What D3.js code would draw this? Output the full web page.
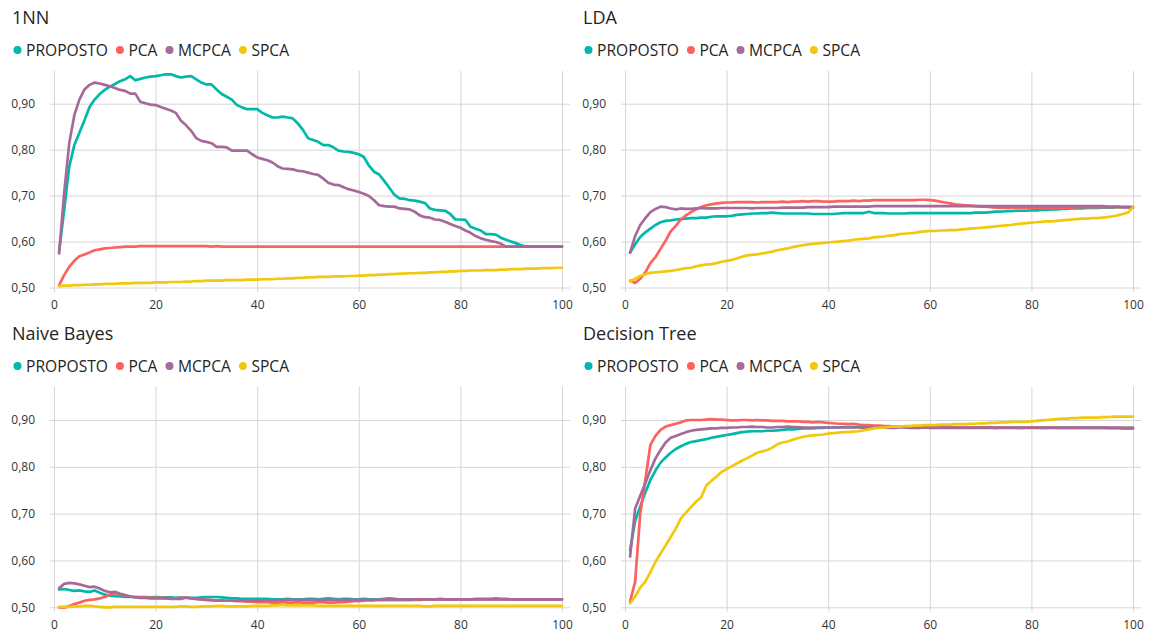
<!DOCTYPE html>
<html>
<head>
<meta charset="utf-8">
<script src="https://cdn.jsdelivr.net/npm/d3@7"></script>
<style>
  html, body { margin: 0; padding: 0; background: #fff; }
  svg { display: block; font-family: "Segoe UI", "Open Sans", sans-serif; }
</style>
</head>
<body>
<svg id="chart" width="1150" height="634"></svg>
<script>
// Number of components on the x axis
const components = d3.range(1, 101);

const seriesNames = ["PROPOSTO", "PCA", "MCPCA", "SPCA"];
const seriesColors = ["#01B8AA", "#FD625E", "#A66999", "#F2C80F"];
const panelTitles = ["1NN", "LDA", "Naive Bayes", "Decision Tree"];
const yTicks = [0.5, 0.6, 0.7, 0.8, 0.9];
const xTicks = [0, 20, 40, 60, 80, 100];

// ---- 1NN ----
const nnProposto = [
  0.578,0.669,0.763,0.810,0.837,0.864,0.893,0.909,0.921,0.930,
  0.937,0.943,0.949,0.953,0.960,0.951,0.954,0.957,0.959,0.960,
  0.962,0.964,0.964,0.960,0.957,0.959,0.960,0.953,0.946,0.942,
  0.942,0.931,0.921,0.915,0.909,0.897,0.892,0.888,0.888,0.888,
  0.880,0.875,0.870,0.870,0.872,0.870,0.868,0.857,0.843,0.825,
  0.821,0.817,0.810,0.810,0.805,0.798,0.796,0.795,0.793,0.790,
  0.784,0.765,0.752,0.746,0.732,0.717,0.702,0.694,0.693,0.690,
  0.689,0.687,0.684,0.672,0.669,0.668,0.667,0.660,0.648,0.648,
  0.647,0.632,0.628,0.624,0.616,0.616,0.615,0.608,0.604,0.600,
  0.596,0.592,0.589,0.589,0.589,0.589,0.589,0.589,0.589,0.589
];
const nnPca = [
  0.505,0.527,0.545,0.558,0.568,0.572,0.576,0.581,0.583,0.585,
  0.586,0.587,0.588,0.589,0.589,0.589,0.590,0.590,0.590,0.590,
  0.590,0.590,0.590,0.590,0.590,0.590,0.590,0.590,0.590,0.590,
  0.589,0.590,0.589,0.589,0.589,0.589,0.589,0.589,0.589,0.589,
  0.589,0.589,0.589,0.589,0.589,0.589,0.589,0.589,0.589,0.589,
  0.589,0.589,0.589,0.589,0.589,0.589,0.589,0.589,0.589,0.589,
  0.589,0.589,0.589,0.589,0.589,0.589,0.589,0.589,0.589,0.589,
  0.589,0.589,0.589,0.589,0.589,0.589,0.589,0.589,0.589,0.589,
  0.589,0.589,0.589,0.589,0.589,0.589,0.589,0.589,0.589,0.589,
  0.589,0.589,0.589,0.589,0.589,0.589,0.589,0.589,0.589,0.589
];
const nnMcpca = [
  0.574,0.705,0.814,0.875,0.909,0.931,0.941,0.946,0.944,0.941,
  0.938,0.934,0.930,0.928,0.922,0.922,0.904,0.901,0.898,0.897,
  0.893,0.889,0.885,0.880,0.863,0.853,0.841,0.825,0.819,0.817,
  0.814,0.806,0.806,0.805,0.798,0.798,0.798,0.798,0.790,0.783,
  0.780,0.777,0.772,0.764,0.759,0.758,0.757,0.754,0.753,0.750,
  0.747,0.745,0.737,0.728,0.724,0.723,0.718,0.714,0.711,0.708,
  0.704,0.699,0.690,0.679,0.677,0.676,0.676,0.672,0.671,0.670,
  0.665,0.657,0.653,0.652,0.648,0.647,0.643,0.638,0.634,0.630,
  0.624,0.619,0.612,0.607,0.604,0.601,0.599,0.595,0.589,0.589,
  0.589,0.589,0.589,0.589,0.589,0.589,0.589,0.589,0.589,0.589
];
const nnSpca = [
  0.503,0.504,0.504,0.505,0.505,0.506,0.506,0.507,0.507,0.508,
  0.508,0.508,0.509,0.509,0.509,0.510,0.510,0.510,0.510,0.511,
  0.511,0.511,0.512,0.512,0.512,0.513,0.513,0.514,0.514,0.515,
  0.515,0.515,0.515,0.516,0.516,0.516,0.516,0.517,0.517,0.517,
  0.518,0.518,0.518,0.519,0.519,0.520,0.520,0.521,0.521,0.522,
  0.522,0.523,0.523,0.523,0.524,0.524,0.524,0.525,0.525,0.526,
  0.526,0.527,0.527,0.528,0.528,0.529,0.529,0.530,0.530,0.531,
  0.531,0.532,0.532,0.533,0.533,0.534,0.534,0.535,0.535,0.536,
  0.536,0.537,0.537,0.537,0.538,0.538,0.538,0.539,0.539,0.540,
  0.540,0.540,0.541,0.541,0.541,0.542,0.542,0.542,0.543,0.543
];

// ---- LDA ----
const ldaProposto = [
  0.576,0.594,0.610,0.620,0.628,0.636,0.642,0.645,0.646,0.648,
  0.649,0.650,0.651,0.651,0.652,0.652,0.654,0.655,0.655,0.655,
  0.656,0.658,0.659,0.660,0.661,0.661,0.662,0.662,0.663,0.662,
  0.661,0.661,0.661,0.661,0.661,0.661,0.660,0.660,0.660,0.660,
  0.660,0.661,0.662,0.662,0.662,0.662,0.662,0.665,0.662,0.662,
  0.662,0.661,0.661,0.661,0.661,0.662,0.662,0.662,0.662,0.662,
  0.662,0.662,0.662,0.662,0.662,0.662,0.662,0.662,0.663,0.663,
  0.663,0.664,0.665,0.665,0.666,0.666,0.667,0.667,0.667,0.668,
  0.668,0.669,0.669,0.670,0.670,0.671,0.671,0.672,0.672,0.672,
  0.673,0.673,0.673,0.674,0.674,0.674,0.675,0.675,0.675,0.675
];
const ldaPca = [
  0.515,0.510,0.519,0.533,0.553,0.566,0.584,0.602,0.622,0.634,
  0.648,0.657,0.664,0.670,0.675,0.679,0.681,0.683,0.684,0.685,
  0.685,0.686,0.686,0.686,0.686,0.685,0.686,0.686,0.686,0.686,
  0.687,0.686,0.687,0.687,0.688,0.687,0.688,0.688,0.687,0.687,
  0.687,0.688,0.688,0.688,0.689,0.688,0.689,0.689,0.690,0.690,
  0.690,0.690,0.690,0.690,0.690,0.690,0.690,0.691,0.691,0.690,
  0.689,0.687,0.685,0.683,0.681,0.680,0.679,0.678,0.677,0.676,
  0.676,0.675,0.674,0.673,0.673,0.673,0.673,0.673,0.673,0.673,
  0.673,0.673,0.673,0.673,0.674,0.674,0.674,0.674,0.675,0.675,
  0.675,0.675,0.675,0.675,0.675,0.675,0.675,0.675,0.675,0.675
];
const ldaMcpca = [
  0.576,0.612,0.636,0.651,0.664,0.671,0.676,0.675,0.672,0.670,
  0.672,0.671,0.671,0.672,0.673,0.672,0.672,0.672,0.673,0.673,
  0.673,0.673,0.673,0.673,0.672,0.673,0.673,0.673,0.673,0.673,
  0.674,0.674,0.674,0.674,0.674,0.675,0.675,0.675,0.675,0.675,
  0.676,0.676,0.676,0.676,0.676,0.676,0.676,0.676,0.677,0.677,
  0.677,0.677,0.677,0.677,0.677,0.677,0.677,0.677,0.677,0.677,
  0.677,0.677,0.677,0.677,0.677,0.677,0.677,0.677,0.677,0.677,
  0.677,0.677,0.677,0.677,0.677,0.677,0.677,0.677,0.677,0.677,
  0.677,0.677,0.677,0.677,0.677,0.677,0.677,0.677,0.677,0.677,
  0.677,0.677,0.677,0.677,0.676,0.676,0.676,0.675,0.675,0.674
];
const ldaSpca = [
  0.513,0.519,0.525,0.529,0.532,0.533,0.534,0.535,0.536,0.538,
  0.540,0.542,0.543,0.546,0.548,0.550,0.551,0.553,0.556,0.558,
  0.560,0.563,0.567,0.570,0.571,0.572,0.574,0.576,0.578,0.581,
  0.583,0.585,0.588,0.590,0.592,0.594,0.595,0.596,0.597,0.598,
  0.599,0.600,0.601,0.602,0.604,0.605,0.606,0.607,0.609,0.610,
  0.611,0.613,0.614,0.616,0.617,0.618,0.619,0.621,0.622,0.623,
  0.623,0.624,0.624,0.625,0.625,0.626,0.627,0.628,0.629,0.630,
  0.631,0.632,0.633,0.634,0.635,0.636,0.638,0.639,0.640,0.641,
  0.642,0.643,0.644,0.644,0.645,0.646,0.647,0.648,0.649,0.650,
  0.650,0.651,0.651,0.652,0.653,0.655,0.657,0.660,0.663,0.675
];

// ---- Naive Bayes ----
const nbProposto = [
  0.538,0.539,0.537,0.535,0.536,0.534,0.533,0.536,0.531,0.527,
  0.525,0.524,0.523,0.522,0.522,0.522,0.522,0.522,0.521,0.522,
  0.521,0.521,0.521,0.520,0.521,0.520,0.520,0.520,0.521,0.522,
  0.522,0.522,0.521,0.520,0.519,0.519,0.518,0.518,0.518,0.518,
  0.518,0.518,0.517,0.517,0.517,0.518,0.517,0.517,0.517,0.518,
  0.518,0.517,0.518,0.519,0.518,0.517,0.518,0.518,0.517,0.517,
  0.518,0.517,0.517,0.517,0.518,0.519,0.518,0.517,0.517,0.517,
  0.517,0.517,0.517,0.517,0.517,0.518,0.517,0.517,0.517,0.517,
  0.517,0.517,0.518,0.518,0.518,0.518,0.519,0.518,0.518,0.517,
  0.517,0.517,0.517,0.517,0.517,0.517,0.517,0.517,0.517,0.517
];
const nbPca = [
  0.500,0.499,0.503,0.507,0.510,0.514,0.516,0.517,0.519,0.522,
  0.527,0.530,0.528,0.525,0.523,0.522,0.521,0.521,0.520,0.520,
  0.520,0.520,0.519,0.519,0.520,0.521,0.519,0.518,0.517,0.516,
  0.516,0.515,0.515,0.514,0.514,0.513,0.513,0.512,0.512,0.511,
  0.511,0.511,0.510,0.510,0.511,0.510,0.510,0.511,0.510,0.510,
  0.510,0.511,0.511,0.510,0.510,0.511,0.511,0.512,0.513,0.513,
  0.514,0.515,0.515,0.516,0.516,0.516,0.516,0.516,0.516,0.516,
  0.516,0.516,0.517,0.517,0.517,0.517,0.517,0.517,0.517,0.517,
  0.517,0.517,0.517,0.517,0.517,0.517,0.517,0.517,0.517,0.517,
  0.517,0.517,0.517,0.517,0.517,0.517,0.517,0.517,0.517,0.517
];
const nbMcpca = [
  0.541,0.550,0.552,0.551,0.549,0.546,0.543,0.544,0.540,0.535,
  0.532,0.533,0.529,0.526,0.523,0.521,0.520,0.520,0.519,0.519,
  0.519,0.519,0.518,0.518,0.518,0.521,0.519,0.518,0.517,0.516,
  0.515,0.514,0.514,0.514,0.514,0.514,0.514,0.514,0.514,0.514,
  0.514,0.515,0.515,0.515,0.516,0.516,0.516,0.516,0.516,0.516,
  0.516,0.516,0.516,0.516,0.516,0.516,0.516,0.516,0.516,0.516,
  0.516,0.516,0.516,0.516,0.516,0.516,0.516,0.516,0.516,0.516,
  0.517,0.517,0.517,0.517,0.517,0.517,0.517,0.517,0.517,0.517,
  0.517,0.517,0.517,0.517,0.517,0.517,0.517,0.517,0.517,0.517,
  0.517,0.517,0.517,0.517,0.517,0.517,0.517,0.517,0.517,0.517
];
const nbSpca = [
  0.501,0.501,0.501,0.502,0.502,0.503,0.503,0.502,0.501,0.500,
  0.500,0.501,0.501,0.501,0.501,0.501,0.501,0.501,0.501,0.501,
  0.501,0.501,0.501,0.501,0.502,0.502,0.501,0.501,0.502,0.502,
  0.502,0.503,0.503,0.502,0.502,0.502,0.502,0.502,0.503,0.503,
  0.503,0.503,0.504,0.504,0.505,0.504,0.504,0.504,0.504,0.504,
  0.504,0.503,0.503,0.503,0.503,0.503,0.503,0.503,0.503,0.503,
  0.503,0.503,0.503,0.503,0.503,0.503,0.503,0.503,0.503,0.503,
  0.503,0.503,0.502,0.502,0.503,0.503,0.503,0.503,0.503,0.503,
  0.503,0.503,0.503,0.503,0.503,0.503,0.503,0.503,0.503,0.503,
  0.503,0.503,0.503,0.503,0.503,0.503,0.503,0.503,0.503,0.503
];

// ---- Decision Tree ----
const dtProposto = [
  0.622,0.685,0.715,0.745,0.772,0.792,0.809,0.820,0.830,0.838,
  0.844,0.849,0.853,0.855,0.857,0.859,0.862,0.864,0.866,0.868,
  0.870,0.872,0.874,0.875,0.876,0.876,0.876,0.877,0.877,0.878,
  0.879,0.880,0.880,0.881,0.882,0.882,0.882,0.883,0.883,0.884,
  0.884,0.884,0.885,0.885,0.885,0.885,0.885,0.885,0.885,0.886,
  0.886,0.886,0.885,0.885,0.885,0.885,0.885,0.885,0.885,0.885,
  0.885,0.885,0.884,0.884,0.884,0.884,0.884,0.884,0.884,0.884,
  0.884,0.884,0.884,0.884,0.884,0.884,0.884,0.884,0.884,0.884,
  0.884,0.884,0.884,0.884,0.884,0.884,0.884,0.884,0.884,0.884,
  0.884,0.884,0.884,0.884,0.883,0.883,0.883,0.883,0.883,0.883
];
const dtPca = [
  0.512,0.555,0.700,0.772,0.847,0.866,0.879,0.886,0.889,0.892,
  0.895,0.899,0.900,0.900,0.900,0.901,0.902,0.901,0.901,0.900,
  0.899,0.899,0.900,0.900,0.899,0.900,0.899,0.899,0.898,0.898,
  0.898,0.897,0.897,0.897,0.896,0.896,0.895,0.896,0.895,0.894,
  0.893,0.892,0.892,0.891,0.892,0.890,0.889,0.889,0.888,0.888,
  0.887,0.887,0.886,0.886,0.886,0.885,0.885,0.885,0.884,0.884,
  0.884,0.884,0.884,0.884,0.884,0.884,0.884,0.884,0.884,0.884,
  0.884,0.884,0.883,0.884,0.884,0.884,0.883,0.883,0.884,0.884,
  0.884,0.883,0.883,0.884,0.883,0.883,0.883,0.883,0.883,0.883,
  0.883,0.883,0.883,0.883,0.883,0.883,0.883,0.883,0.883,0.883
];
const dtMcpca = [
  0.608,0.711,0.738,0.765,0.793,0.818,0.836,0.852,0.862,0.866,
  0.870,0.874,0.877,0.879,0.880,0.881,0.882,0.882,0.883,0.883,
  0.884,0.884,0.885,0.885,0.886,0.885,0.885,0.884,0.884,0.885,
  0.885,0.886,0.885,0.885,0.884,0.884,0.884,0.884,0.884,0.884,
  0.884,0.884,0.884,0.884,0.884,0.884,0.883,0.884,0.884,0.884,
  0.884,0.883,0.883,0.884,0.884,0.883,0.883,0.883,0.884,0.883,
  0.883,0.883,0.883,0.883,0.883,0.883,0.883,0.883,0.883,0.883,
  0.883,0.883,0.883,0.883,0.883,0.883,0.883,0.883,0.883,0.883,
  0.883,0.883,0.883,0.883,0.883,0.883,0.883,0.883,0.883,0.883,
  0.883,0.883,0.883,0.883,0.883,0.883,0.883,0.882,0.882,0.882
];
const dtSpca = [
  0.509,0.523,0.542,0.555,0.575,0.597,0.615,0.632,0.650,0.668,
  0.690,0.702,0.714,0.726,0.735,0.760,0.770,0.779,0.789,0.795,
  0.801,0.807,0.813,0.818,0.824,0.830,0.833,0.836,0.841,0.848,
  0.852,0.854,0.858,0.861,0.864,0.866,0.867,0.868,0.869,0.871,
  0.872,0.873,0.874,0.874,0.875,0.876,0.878,0.880,0.882,0.883,
  0.884,0.885,0.886,0.886,0.887,0.887,0.888,0.888,0.889,0.889,
  0.889,0.890,0.890,0.890,0.891,0.891,0.891,0.892,0.892,0.893,
  0.893,0.894,0.894,0.895,0.895,0.896,0.896,0.896,0.896,0.897,
  0.898,0.899,0.900,0.901,0.902,0.903,0.903,0.904,0.904,0.905,
  0.905,0.905,0.905,0.906,0.906,0.907,0.907,0.907,0.907,0.907
];

// Panel layout: column offset and vertical frame of each small multiple
const panels = [
  { title: panelTitles[0], series: [nnProposto, nnPca, nnMcpca, nnSpca],     dx: 0,   row: 0 },
  { title: panelTitles[1], series: [ldaProposto, ldaPca, ldaMcpca, ldaSpca], dx: 571, row: 0 },
  { title: panelTitles[2], series: [nbProposto, nbPca, nbMcpca, nbSpca],     dx: 0,   row: 1 },
  { title: panelTitles[3], series: [dtProposto, dtPca, dtMcpca, dtSpca],     dx: 571, row: 1 }
];
const rows = [
  { titleY: 24,    legendY: 50,  plotTop: 71,    y05: 287.5, y09: 103.7 },
  { titleY: 339.5, legendY: 366, plotTop: 386.7, y05: 607.3, y09: 420 }
];

const svg = d3.select("#chart");
const fmt = d => d3.format(".2f")(d).replace(".", ",");

panels.forEach(p => {
  const r = rows[p.row];
  const g = svg.append("g");
  const left = 12 + p.dx;

  const x = d3.scaleLinear().domain([0, 100]).range([54 + p.dx, 562 + p.dx]);
  const y = d3.scaleLinear().domain([0.5, 0.9]).range([r.y05, r.y09]);

  // title
  g.append("text")
    .attr("x", left).attr("y", r.titleY)
    .attr("font-size", 18).attr("fill", "#252423")
    .text(p.title);

  // legend
  let lx = left + 5.5;
  seriesNames.forEach((name, k) => {
    g.append("circle").attr("cx", lx).attr("cy", r.legendY).attr("r", 4)
      .attr("fill", seriesColors[k]);
    const t = g.append("text")
      .attr("x", lx + 8.5).attr("y", r.legendY + 5.5)
      .attr("font-size", 15.6).attr("fill", "#252423")
      .text(name);
    lx = lx + 8.5 + t.node().getComputedTextLength() + 12;
  });

  const x0 = x(0) - 4, x1 = x(100) + 8;
  const gridBottom = r.y05 + 4.5;

  // horizontal gridlines with value labels
  const yAxis = d3.axisLeft(y).tickValues(yTicks).tickFormat(fmt)
    .tickSize(-(x1 - x0)).tickPadding(15);
  const ya = g.append("g").attr("transform", `translate(${x0},0)`).call(yAxis);
  ya.select(".domain").remove();
  ya.selectAll("line").attr("stroke", "#d6d6d6").attr("stroke-width", 1);
  ya.selectAll("text").attr("font-size", 12).attr("fill", "#333")
    .attr("font-family", "'Segoe UI','Open Sans',sans-serif");

  // vertical gridlines with component labels
  const xAxis = d3.axisBottom(x).tickValues(xTicks).tickFormat(d3.format("d"))
    .tickSize(-(gridBottom - r.plotTop)).tickPadding(8.8);
  const xa = g.append("g").attr("transform", `translate(0,${gridBottom})`).call(xAxis);
  xa.select(".domain").remove();
  xa.selectAll("line").attr("stroke", "#d6d6d6").attr("stroke-width", 1);
  xa.selectAll("text").attr("font-size", 12).attr("fill", "#333")
    .attr("font-family", "'Segoe UI','Open Sans',sans-serif");

  // series lines
  const line = d3.line()
    .x((d, i) => x(components[i]))
    .y(d => y(d));
  p.series.forEach((vals, k) => {
    g.append("path")
      .datum(vals)
      .attr("fill", "none")
      .attr("stroke", seriesColors[k])
      .attr("stroke-width", 2.7)
      .attr("stroke-linejoin", "round")
      .attr("stroke-linecap", "round")
      .attr("d", line);
  });
});
</script>
</body>
</html>
